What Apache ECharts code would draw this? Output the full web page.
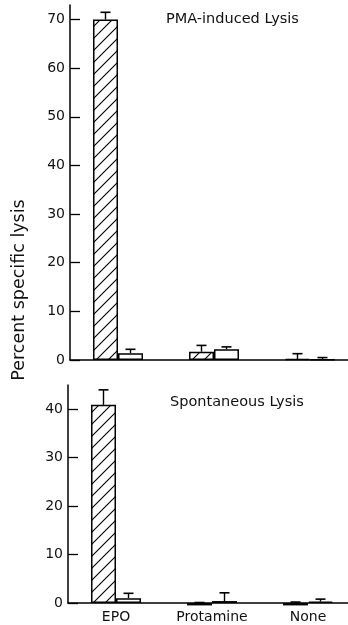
<!DOCTYPE html>
<html>
<head>
<meta charset="utf-8">
<script src="https://cdn.jsdelivr.net/npm/echarts@6/dist/echarts.min.js"></script>
<style>html,body{margin:0;padding:0;background:#fff}#c{width:348px;height:625px}</style>
</head>
<body>
<div id="c"></div>
<script>
// ---- data ----
var categories = ['EPO', 'Protamine', 'None'];
var pmaHatched = [70, 1.7, 0.2];
var pmaHatchedSD = [1.5, 1.3, 1.1];
var pmaOpen = [1.4, 2.2, 0.1];
var pmaOpenSD = [0.8, 0.5, 0.4];
var sponHatched = [40.9, -0.5, -0.5];
var sponHatchedSD = [3.1, 0.6, 0.7];
var sponOpen = [1.0, 0.4, 0.3];
var sponOpenSD = [1.0, 1.7, 0.5];
var pmaTicks = [0, 10, 20, 30, 40, 50, 60, 70];
var sponTicks = [0, 10, 20, 30, 40];
var panelTitles = ['PMA-induced Lysis', 'Spontaneous Lysis'];
var yName = 'Percent specific lysis';

// ---- hatch pattern ----
function hatch() {
  var s = 12, c = document.createElement('canvas');
  c.width = s; c.height = s;
  var g = c.getContext('2d');
  g.fillStyle = '#fff'; g.fillRect(0, 0, s, s);
  g.strokeStyle = '#000'; g.lineWidth = 1.1;
  g.beginPath();
  g.moveTo(-2, s + 2); g.lineTo(s + 2, -2);
  g.moveTo(-2, 2); g.lineTo(2, -2);
  g.moveTo(s - 2, s + 2); g.lineTo(s + 2, s - 2);
  g.stroke();
  return c;
}
var hatchFill = { image: hatch(), repeat: 'repeat' };
var BW = 25;
var FONT = 'DejaVu Sans';

function errSeries(vals, sds, xi, yi, side) {
  return {
    type: 'custom', xAxisIndex: xi, yAxisIndex: yi, z: 5,
    data: vals.map(function (v, i) { return [i, v, v + sds[i]]; }),
    renderItem: function (params, api) {
      var p0 = api.coord([api.value(0), api.value(1)]);
      var p1 = api.coord([api.value(0), api.value(2)]);
      var pz = api.coord([api.value(0), 0]);
      var x = p0[0] + side * BW / 2;
      var top = p1[1];
      var start = Math.min(p0[1], pz[1]);
      return {
        type: 'group',
        children: [
          { type: 'line', shape: { x1: x, y1: start, x2: x, y2: top }, style: { stroke: '#000', lineWidth: 1.4 } },
          { type: 'line', shape: { x1: x - 5, y1: top, x2: x + 5, y2: top }, style: { stroke: '#000', lineWidth: 1.6 } }
        ]
      };
    }
  };
}

function barSeries(vals, xi, yi, filled) {
  return {
    type: 'bar', xAxisIndex: xi, yAxisIndex: yi, data: vals,
    barWidth: BW, barGap: '0%', clip: false,
    itemStyle: { color: filled ? hatchFill : '#fff', borderColor: '#000', borderWidth: 1.5 }
  };
}

var axisLineStyle = { color: '#000', width: 1.5 };
var labelStyle = { color: '#111', fontFamily: FONT, fontSize: 14 };

var option = {
  animation: false,
  backgroundColor: '#fff',
  title: [
    { text: panelTitles[0], left: 166, top: 12, padding: 0, textStyle: { color: '#111', fontFamily: FONT, fontSize: 14.5, fontWeight: 'normal' } },
    { text: panelTitles[1], left: 170, top: 395, padding: 0, textStyle: { color: '#111', fontFamily: FONT, fontSize: 14.5, fontWeight: 'normal' } }
  ],
  graphic: [
    { type: 'text', x: 19, y: 290, rotation: Math.PI / 2, style: { text: yName, fill: '#111', font: '17.5px "DejaVu Sans"', textAlign: 'center', textVerticalAlign: 'middle' } }
  ],
  grid: [
    { left: 70, width: 288, top: 5, height: 355, outerBoundsMode: 'none', containLabel: false },
    { left: 68, width: 288, top: 385, height: 218, outerBoundsMode: 'none', containLabel: false }
  ],
  xAxis: [
    { type: 'category', gridIndex: 0, data: categories, axisLine: { lineStyle: axisLineStyle }, axisTick: { show: false }, axisLabel: { show: false } },
    { type: 'category', gridIndex: 1, data: categories, axisLine: { lineStyle: axisLineStyle }, axisTick: { show: false }, axisLabel: Object.assign({ margin: 7 }, labelStyle) }
  ],
  yAxis: [
    { type: 'value', gridIndex: 0, min: 0, max: 73, splitLine: { show: false },
      axisLine: { show: true, lineStyle: axisLineStyle },
      axisTick: { show: true, inside: true, length: 10, lineStyle: { color: '#000', width: 1.3 }, customValues: pmaTicks },
      axisLabel: Object.assign({ margin: 5, customValues: pmaTicks }, labelStyle) },
    { type: 'value', gridIndex: 1, min: 0, max: 45, splitLine: { show: false },
      axisLine: { show: true, lineStyle: axisLineStyle },
      axisTick: { show: true, inside: true, length: 10, lineStyle: { color: '#000', width: 1.3 }, customValues: sponTicks },
      axisLabel: Object.assign({ margin: 5, customValues: sponTicks }, labelStyle) }
  ],
  series: [
    barSeries(pmaHatched, 0, 0, true),
    barSeries(pmaOpen, 0, 0, false),
    barSeries(sponHatched, 1, 1, true),
    barSeries(sponOpen, 1, 1, false),
    errSeries(pmaHatched, pmaHatchedSD, 0, 0, -1),
    errSeries(pmaOpen, pmaOpenSD, 0, 0, 1),
    errSeries(sponHatched, sponHatchedSD, 1, 1, -1),
    errSeries(sponOpen, sponOpenSD, 1, 1, 1)
  ]
};
echarts.init(document.getElementById('c')).setOption(option);
</script>
</body>
</html>
